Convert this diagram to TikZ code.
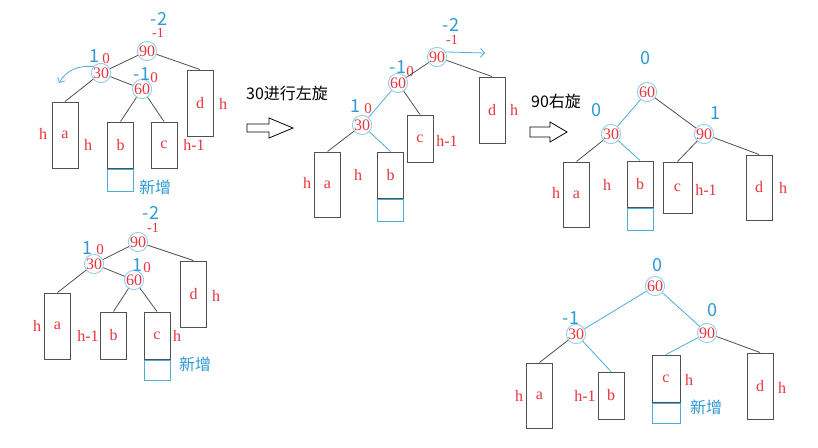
\documentclass[tikz,border=0pt]{standalone}
\usepackage{fontspec}
\setmainfont{Liberation Serif}
\newfontfamily\cjk{Noto Sans CJK SC}
\usetikzlibrary{positioning,arrows.meta}
\definecolor{numred}{HTML}{E8343C}
\definecolor{bfblue}{HTML}{2E9AD6}
\definecolor{ringblue}{HTML}{8ECFEE}
\definecolor{linkblue}{HTML}{4AAED8}
\definecolor{linkgray}{HTML}{505050}
\tikzset{
  key/.style={circle, draw=ringblue, line width=0.9pt, inner sep=0pt, minimum size=18pt, text=numred, font=\fontsize{16}{16}\selectfont},
  sub/.style={draw=linkgray, line width=1pt, minimum width=26pt, inner sep=0pt, text=numred, font=\fontsize{16}{16}\selectfont},
  added/.style={draw=linkblue, line width=1pt, minimum width=26pt, minimum height=22pt, inner sep=0pt, below=0pt of #1},
  bf/.style={text=bfblue, font=\cjk\fontsize{18}{18}\selectfont, inner sep=0pt},
  old/.style={text=numred, font=\fontsize{15}{15}\selectfont, inner sep=0pt},
  small/.style={text=numred, font=\fontsize{14}{14}\selectfont, inner sep=0pt},
  ht/.style={text=numred, font=\fontsize{16}{16}\selectfont, inner sep=0pt},
  note/.style={text=bfblue, font=\cjk\fontsize{16}{16}\selectfont, inner sep=0pt},
  say/.style={text=black, font=\cjk\fontsize{16}{16}\selectfont, inner sep=0pt},
  link/.style={draw=linkgray, line width=0.8pt},
  hot/.style={draw=linkblue, line width=0.8pt},
  push/.style={draw=black, line width=0.8pt, fill=white},
}
\begin{document}
\begin{tikzpicture}[x=1pt, y=-1pt]
  \useasboundingbox[fill=white] (0,0) rectangle (818,447);
  % before: 60 is added under 30, b grows
  \node[key] (A90) at (147,51) {90};
  \node[key] (A30) at (101,73) {30};
  \node[key] (A60) at (142,89) {60};
  \node[sub, minimum height=66pt] (Aa) at (65,135) {a};
  \node[sub, minimum height=46pt] (Ab) at (120.5,145) {b};
  \node[sub, minimum height=46pt] (Ac) at (164,145) {c};
  \node[sub, minimum height=66pt] (Ad) at (200,103) {d};
  \node[added=Ab] (Anew) {};
  \node[bf] (A90bf) at (159,19) {-2};
  \node[small] (A90old) at (158,33) {-1};
  \node[bf] (A30bf) at (94,56) {1};
  \node[old] (A30old) at (106,59) {0};
  \node[bf] (A60bf) at (142,74) {-1};
  \node[old] (A60old) at (154,78) {0};
  \node[ht] (Aha) at (43,134) {h};
  \node[ht] (Ahb) at (88,145) {h};
  \node[ht] (Ahc) at (194,145) {h-1};
  \node[ht] (Ahd) at (223,104) {h};
  \node[note] (Anote) at (155,187) {新增};
  \coordinate (Aturn) at (59,83);
  \draw[link] (A90)--(A30);
  \draw[link] (A90)--(Ad.north);
  \draw[link] (A30)--(A60);
  \draw[link] (A30)--(Aa.north);
  \draw[link] (A60)--(Ab.north);
  \draw[link] (A60)--(Ac.north);
  \draw[hot, -{Straight Barb[length=4pt,width=8pt]}] (A30.140) to[out=175, in=60] (Aturn);
  % step one: left turn at 30
  \node[say] (Bsay) at (287,93) {30进行左旋};
  \draw[push] (247,124)--(269,124)--(269,118)--(293,128)--(269,138)--(269,132)--(247,132)--cycle;
  \node[key] (B90) at (437,57) {90};
  \node[key] (B60) at (398,83) {60};
  \node[key] (B30) at (362,125) {30};
  \node[sub, minimum height=65pt] (Ba) at (327.5,184.5) {a};
  \node[sub, minimum height=46pt] (Bb) at (390.5,175) {b};
  \node[sub, minimum height=47pt] (Bc) at (420,138.5) {c};
  \node[sub, minimum height=66pt] (Bd) at (492,110) {d};
  \node[added=Bb] (Bnew) {};
  \node[bf] (B90bf) at (451,25) {-2};
  \node[small] (B90old) at (452,40) {-1};
  \node[bf] (B60bf) at (398,67) {-1};
  \node[old] (B60old) at (410,72) {0};
  \node[bf] (B30bf) at (355,106) {1};
  \node[old] (B30old) at (368,109) {0};
  \node[ht] (Bha) at (307,183) {h};
  \node[ht] (Bhb) at (358,175) {h};
  \node[ht] (Bhc) at (447,141) {h-1};
  \node[ht] (Bhd) at (514,110) {h};
  \coordinate (Bturn) at (485,53);
  \draw[link] (B90)--(B60);
  \draw[link] (B90)--(Bd.north);
  \draw[hot] (B60)--(B30);
  \draw[link] (B60)--(Bc.north);
  \draw[link] (B30)--(Ba.north);
  \draw[hot] (B30)--(Bb.north);
  \draw[hot, -{Straight Barb[length=4pt,width=9pt]}] (B90.30)--(Bturn);
  % step two: right turn at 90
  \node[say] (Csay) at (556,101) {90右旋};
  \draw[push] (530,127)--(550,127)--(550,122)--(567,132)--(550,142)--(550,137)--(530,137)--cycle;
  \node[key] (C60) at (647,92) {60};
  \node[key] (C30) at (611,134) {30};
  \node[key] (C90) at (704,134) {90};
  \node[sub, minimum height=65pt] (Ca) at (576.5,194.5) {a};
  \node[sub, minimum height=46pt] (Cb) at (640,184) {b};
  \node[sub, minimum height=51pt, minimum width=29pt] (Cc) at (677.5,187.5) {c};
  \node[sub, minimum height=65pt] (Cd) at (759,187.5) {d};
  \node[added=Cb] (Cnew) {};
  \node[bf] (C60bf) at (645,58) {0};
  \node[bf] (C30bf) at (596,110) {0};
  \node[bf] (C90bf) at (715,113) {1};
  \node[ht] (Cha) at (556,193) {h};
  \node[ht] (Chb) at (607,185) {h};
  \node[ht] (Chc) at (706,190) {h-1};
  \node[ht] (Chd) at (783,188) {h};
  \draw[hot] (C60)--(C30);
  \draw[link] (C60)--(C90);
  \draw[link] (C30)--(Ca.north);
  \draw[hot] (C30)--(Cb.north);
  \draw[link] (C90)--(Cc.north);
  \draw[link] (C90)--(Cd.north);
  % before: 60 is added under 30, c grows
  \node[key] (D90) at (138,242) {90};
  \node[key] (D30) at (94,264) {30};
  \node[key] (D60) at (134,280) {60};
  \node[sub, minimum height=66pt] (Da) at (57.5,326) {a};
  \node[sub, minimum height=47pt] (Db) at (113.5,335.5) {b};
  \node[sub, minimum height=47pt] (Dc) at (157,335.5) {c};
  \node[sub, minimum height=66pt] (Dd) at (193.5,294) {d};
  \node[added=Dc, minimum height=20pt] (Dnew) {};
  \node[bf] (D90bf) at (151,213) {-2};
  \node[small] (D90old) at (153,228) {-1};
  \node[bf] (D30bf) at (87,248) {1};
  \node[old] (D30old) at (100,250) {0};
  \node[bf] (D60bf) at (137,265) {1};
  \node[old] (D60old) at (147,268) {0};
  \node[ht] (Dha) at (37,326) {h};
  \node[ht] (Dhb) at (88,336) {h-1};
  \node[ht] (Dhc) at (177,336) {h};
  \node[ht] (Dhd) at (216,296) {h};
  \node[note] (Dnote) at (195,364) {新增};
  \draw[link] (D90)--(D30);
  \draw[link] (D90)--(Dd.north);
  \draw[link] (D30)--(D60);
  \draw[link] (D30)--(Da.north);
  \draw[link] (D60)--(Db.north);
  \draw[link] (D60)--(Dc.north);
  % after both turns
  \node[key] (E60) at (655,286) {60};
  \node[key] (E30) at (576,334) {30};
  \node[key] (E90) at (707,333) {90};
  \node[sub, minimum height=65pt] (Ea) at (539.5,395.5) {a};
  \node[sub, minimum height=47pt] (Eb) at (611,395.5) {b};
  \node[sub, minimum height=47pt, minimum width=28pt] (Ec) at (666,378.5) {c};
  \node[sub, minimum height=66pt] (Ed) at (760,386) {d};
  \node[added=Ec, minimum height=20pt, minimum width=28pt] (Enew) {};
  \node[bf] (E60bf) at (657,265) {0};
  \node[bf] (E30bf) at (571,318) {-1};
  \node[bf] (E90bf) at (712,310) {0};
  \node[ht] (Eha) at (519,396) {h};
  \node[ht] (Ehb) at (585,396) {h-1};
  \node[ht] (Ehc) at (689,380) {h};
  \node[ht] (Ehd) at (782,388) {h};
  \node[note] (Enote) at (706,407) {新增};
  \draw[hot] (E60)--(E30);
  \draw[hot] (E60)--(E90);
  \draw[link] (E30)--(Ea.north);
  \draw[hot] (E30)--(Eb.north);
  \draw[hot] (E90)--(Ec.north);
  \draw[link] (E90)--(Ed.north);
\end{tikzpicture}
\end{document}
